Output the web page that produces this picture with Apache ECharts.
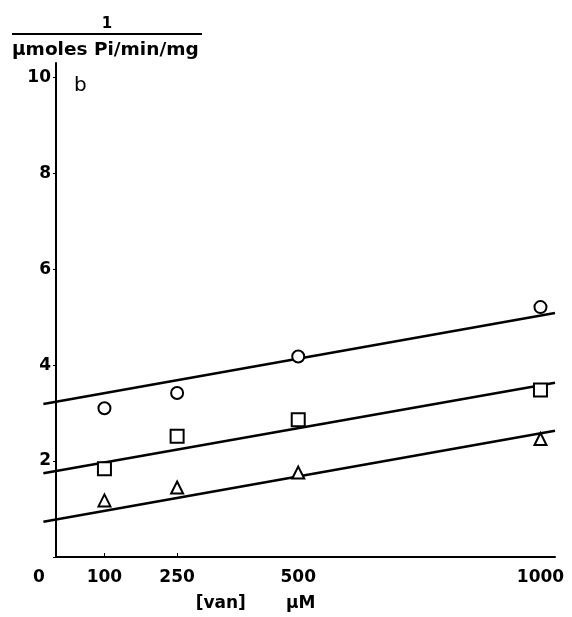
<!DOCTYPE html>
<html>
<head>
<meta charset="utf-8">
<script src="https://cdn.jsdelivr.net/npm/echarts@6/dist/echarts.min.js"></script>
<style>
  html, body { margin: 0; padding: 0; background: #fff; }
  #chart { width: 572px; height: 617px; }
</style>
</head>
<body>
<div id="chart"></div>
<script>
// concentracion de vanadato (uM)
const vanConc = [100, 250, 500, 1000];
// 1 / actividad para cada serie
const circles = [3.10, 3.42, 4.18, 5.21];
const squares = [1.84, 2.52, 2.86, 3.48];
const triangles = [1.18, 1.45, 1.76, 2.46];

// rectas ajustadas: extremos en x y su valor
const fitX = [-26, 1030];
const circleFit = [3.26, 5.14];
const squareFit = [1.83, 3.70];
const triangleFit = [0.83, 2.71];

const xLabels = [0, 100, 250, 500, 1000];
const yLabels = [2, 4, 6, 8, 10];
const yTicks = [0, 2, 4, 6, 8, 10];

const font = "DejaVu Sans";
const xMax = 1030;
const yMax = 10.3;

function pairs(xs, ys) {
  return xs.map((x, i) => [x, ys[i]]);
}

let chart = echarts.init(document.getElementById("chart"), null, { renderer: "canvas" });

// las rectas van en una segunda rejilla (misma escala) que empieza a la izquierda del eje
function fitLine(vals) {
  return {
    type: "line",
    xAxisIndex: 1,
    yAxisIndex: 1,
    data: pairs(fitX, vals),
    symbol: "none",
    lineStyle: { color: "#000", width: 2.5 },
    z: 2,
    silent: true
  };
}

function points(vals, symbol, size) {
  return {
    type: "scatter",
    data: pairs(vanConc, vals),
    symbol: symbol,
    symbolSize: size,
    itemStyle: { color: "#000", borderWidth: 1, opacity: 1 },
    z: 3
  };
}

let option = {
  backgroundColor: "#fff",
  animation: false,
  title: [
    {
      left: 7,
      top: 9,
      text: "{n|1}\n{bar| }\n{d|μmoles Pi/min/mg}",
      textStyle: {
        rich: {
          n: { fontFamily: font, fontSize: 15, fontWeight: "bold", color: "#000", width: 190, align: "center", lineHeight: 18, verticalAlign: "bottom" },
          bar: { width: 190, height: 2, lineHeight: 4, backgroundColor: "#000", fontSize: 2 },
          d: { fontFamily: font, fontSize: 18.5, fontWeight: "bold", color: "#000", lineHeight: 28 }
        }
      }
    },
    {
      left: 69,
      top: 71,
      text: "b",
      textStyle: { fontFamily: font, fontSize: 20, fontWeight: "normal", color: "#000" }
    }
  ],
  grid: [
    { left: 56, right: 17, top: 63, bottom: 55 },
    { left: 43, right: 17, top: 63, bottom: 55 }
  ],
  xAxis: [
    {
      type: "value",
      gridIndex: 0,
      min: 0,
      max: xMax,
      splitLine: { show: false },
      axisLine: { lineStyle: { color: "#000", width: 2 } },
      axisTick: { customValues: [100, 250], inside: true, length: 4, lineStyle: { color: "#000", width: 1 } },
      axisLabel: {
        customValues: xLabels,
        margin: 12,
        fontFamily: font,
        fontSize: 17,
        fontWeight: "bold",
        color: "#000",
        formatter: v => (v === 0 ? "{z|0}" : String(v)),
        rich: {
          z: { fontFamily: font, fontSize: 17, fontWeight: "bold", color: "#000", padding: [0, 34, 0, 0] }
        }
      },
      name: "{a|[van]}{b|μM}",
      nameLocation: "middle",
      nameGap: 38,
      nameTextStyle: {
        padding: [0, 100, 0, 0],
        rich: {
          a: { fontFamily: font, fontSize: 17, fontWeight: "bold", color: "#000" },
          b: { fontFamily: font, fontSize: 17, fontWeight: "bold", color: "#000", padding: [0, 0, 0, 40] }
        }
      }
    },
    {
      type: "value",
      gridIndex: 1,
      min: -26.8,
      max: xMax,
      show: false
    }
  ],
  yAxis: [
    {
      type: "value",
      gridIndex: 0,
      min: 0,
      max: yMax,
      splitLine: { show: false },
      axisLine: { lineStyle: { color: "#000", width: 2 } },
      axisTick: { customValues: yTicks, length: 3, lineStyle: { color: "#000", width: 1 } },
      axisLabel: {
        customValues: yLabels,
        margin: 5,
        fontFamily: font,
        fontSize: 17,
        fontWeight: "bold",
        color: "#000"
      }
    },
    {
      type: "value",
      gridIndex: 1,
      min: 0,
      max: yMax,
      show: false
    }
  ],
  series: [
    fitLine(circleFit),
    fitLine(squareFit),
    fitLine(triangleFit),
    points(circles, "emptyCircle", 12),
    points(squares, "emptyRect", 13),
    points(triangles, "emptyTriangle", 12)
  ]
};

chart.setOption(option);
window.addEventListener("resize", chart.resize);
</script>
</body>
</html>
